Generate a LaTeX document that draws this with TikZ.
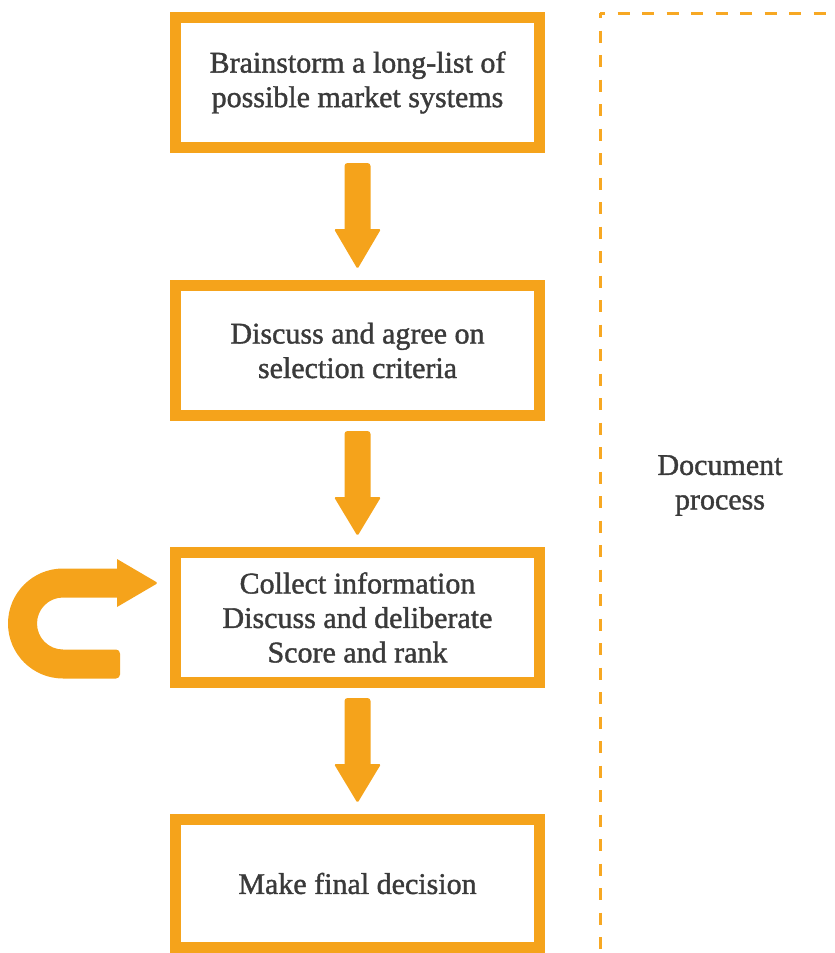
\documentclass[tikz,border=0pt]{standalone}
\usepackage{fontspec}
\setmainfont{Liberation Serif}[FakeBold=1.3]
\usetikzlibrary{calc}
\definecolor{orng}{HTML}{F5A31B}
\definecolor{dashorng}{HTML}{F7A823}
\definecolor{txt}{HTML}{3A3A3A}
\tikzset{
  stepbox/.style={draw=orng, line width=11pt, rectangle, minimum width=364pt,
    minimum height=130pt, inner sep=0pt, align=center, text=txt,
    font=\fontsize{30}{34.5}\selectfont},
  blockarrow/.style={fill=orng, draw=none},
  frameline/.style={draw=dashorng, line width=3pt, dash pattern=on 12pt off 12.5pt, dash phase=7pt},
  plainlabel/.style={align=center, text=txt, inner sep=0pt, font=\fontsize{30}{34.5}\selectfont}
}
\begin{document}
\begin{tikzpicture}[x=1pt,y=-1pt]
\useasboundingbox (0,0) rectangle (835,953);
% boxes
\node[stepbox] (b1) at (357.5,82.5) {Brainstorm a long-list of\\possible market systems};
\node[stepbox] (b2) at (357.5,350.5) {Discuss and agree on\\selection criteria};
\node[stepbox] (b3) at (357.5,617.5) {Collect information\\Discuss and deliberate\\Score and rank};
\node[stepbox, minimum height=128pt] (b4) at (357.5,883.5) {Make final decision};
% block arrows between boxes
\foreach \a/\b in {b1/b2, b2/b3, b3/b4}{
  \fill[blockarrow] ($(\a.south)+(-13,76)$) [rounded corners=3pt] -- ($(\a.south)+(-13,10)$)
    -- ($(\a.south)+(13,10)$) [sharp corners] -- ($(\a.south)+(13,76)$)
    [rounded corners=1.5pt] -- ($(\a.south)+(23.5,76)$) -- ($(\b.north)+(0,-11)$)
    -- ($(\a.south)+(-23.5,76)$) [sharp corners] -- cycle;
}
% U-turn loop arrow into box 3
\begin{scope}[shift={(b3.west)}]
  \fill[blockarrow] (-53,-49) -- (-53,-58.5) [rounded corners=1.5pt] -- (-12,-34.5) [sharp corners] -- (-53,-10.5)
    -- (-53,-20) -- (-107,-20) arc[start angle=90, end angle=270, radius=26pt]
    -- (-80,32) [rounded corners=4pt] -- (-50,32) -- (-50,61) -- (-80,61) [sharp corners]
    -- (-107,61) arc[start angle=270, end angle=90, radius=55pt] -- cycle;
\end{scope}
% dashed frame
\coordinate (fc) at (600,13);
\coordinate (fr) at (835,13);
\coordinate (fb) at (600,953);
\draw[frameline] (fc) -- (fr);
\draw[frameline] (fc) -- (fb);
\node[plainlabel] (doc) at (720,485.5) {Document\\process};
\end{tikzpicture}
\end{document}
